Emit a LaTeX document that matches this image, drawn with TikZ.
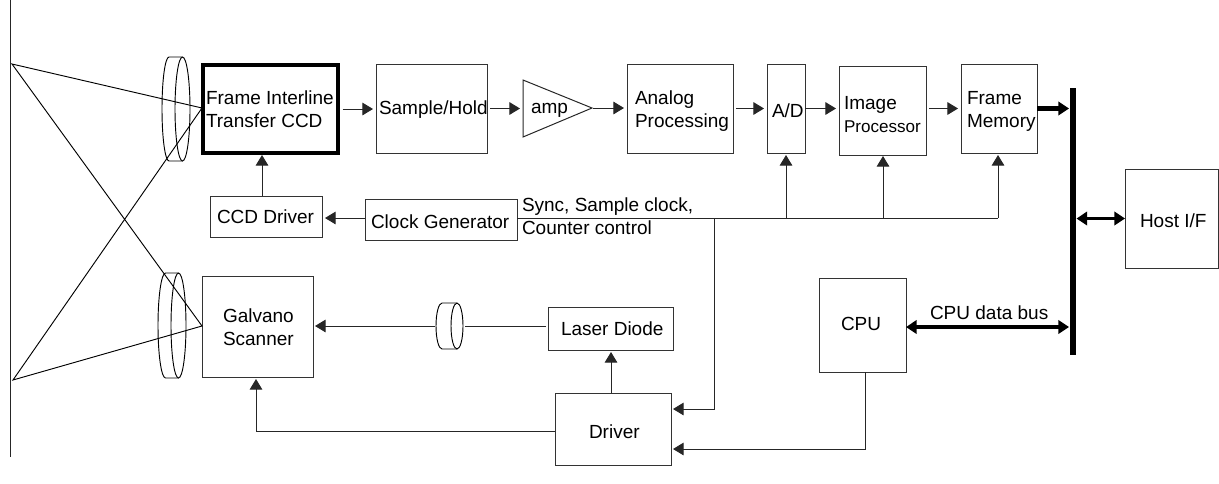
\documentclass[tikz,border=0pt]{standalone}
\usepackage{fontspec}
\setmainfont{Liberation Sans}
\usetikzlibrary{arrows.meta}
\newcommand{\bxnode}[6][bx]{\node[#1,minimum width={(#4-#2)*0.75pt},minimum height={(#5-#3)*0.75pt}] (#6) at ({(#2+#4)/2},{(#3+#5)/2}) {};}
\tikzset{
  bx/.style={draw=black!80,line width=0.75pt,rectangle,inner sep=0pt,outer sep=0pt},
  ccdbx/.style={bx,draw=black,line width=2.9pt},
  busbar/.style={rectangle,fill=black,inner sep=0pt,outer sep=0pt},
  lbl/.style={inner sep=0pt,outer sep=0pt,anchor=west,align=left,font=\fontsize{14.25}{17.25}\selectfont},
  wire/.style={draw=black!85,line width=0.75pt},
  conn/.style={wire,-{Triangle[length=8pt,width=9.5pt]}},
  thickconn/.style={draw=black,line width=3.6pt,-{Triangle[length=8pt,width=10pt]}},
  duplex/.style={draw=black,line width=2.8pt,{Triangle[length=8pt,width=10pt]}-{Triangle[length=8pt,width=10pt]}},
  optic/.style={draw=black,line width=0.7pt},
  gapa/.style={shorten <=2.25pt,shorten >=2.25pt},
}
\begin{document}
\begin{tikzpicture}[x=0.75pt,y=-0.75pt]
\useasboundingbox (0,0) rectangle (1219,483);
% boxes
\bxnode[ccdbx]{203}{65}{338}{153}{ccd}
\bxnode{376}{64}{487}{153}{sh}
\bxnode{627}{64}{733}{153}{ana}
\bxnode{767}{64}{805}{153}{ad}
\bxnode{839}{66}{926}{155}{img}
\bxnode{961}{64}{1037}{153}{fm}
\bxnode{1125}{169}{1218}{268}{host}
\bxnode{210}{196}{322}{237}{ccdd}
\bxnode{365}{199}{517}{240}{clk}
\bxnode{202}{276}{313}{377}{gal}
\bxnode{548}{307}{673}{350}{ld}
\bxnode{555}{393}{671}{465}{drv}
\bxnode{819}{278}{906}{372}{cpu}
\bxnode[busbar]{1070}{88}{1075.5}{355}{bus}
% amp
\coordinate (ampw) at (523,108);
\coordinate (ampe) at (592,108);
\draw[wire] (523,80) -- (ampe) -- (523,137) -- cycle;
% labels
\node[lbl] (ccdt) at (206,109.5) {Frame Interline\\Transfer CCD};
\node[lbl] (sht) at (379,110) {Sample/Hold};
\node[lbl] (ampt) at (531,110) {amp};
\node[lbl] (anat) at (635,111.5) {Analog\\Processing};
\node[lbl] (adt) at (772,111) {A/D};
\node[lbl] (imgt) at (844,114.5) {Image\\{\fontsize{12.8}{17.25}\selectfont Processor}};
\node[lbl] (fmt) at (967,111.5) {Frame\\Memory};
\node[lbl] (hostt) at (1140,221) {Host I/F};
\node[lbl] (ccddt) at (217,217) {CCD Driver};
\node[lbl] (clkt) at (371,222) {Clock Generator};
\node[lbl] (synct) at (522,216.5) {Sync, Sample clock,\\Counter control};
\node[lbl] (galt) at (223,327) {Galvano\\Scanner};
\node[lbl] (ldt) at (561,329) {Laser Diode};
\node[lbl] (drvt) at (589,431.5) {Driver};
\node[lbl] (cput) at (841,324) {CPU};
\node[lbl] (cbt) at (930,313) {CPU data bus};
% top chain
\draw[conn,gapa] (ccd.east) ++(1.5,0) coordinate (a0) (a0) -- (a0 -| sh.west);
\draw[conn,gapa] (sh.east) -- (sh.east -| ampw);
\draw[conn,shorten <=0.75pt,shorten >=2.25pt] (ampe) -- (ampe -| ana.west);
\draw[conn,gapa] (ana.east) -- (ana.east -| ad.west);
\draw[conn,shorten >=2.25pt] (ad.east) -- (ad.east -| img.west);
\draw[conn,gapa] (img.east |- ad.east) -- (fm.west |- ad.east);
\draw[thickconn,shorten >=0.75pt] (fm.east) -- (fm.east -| bus.west);
\draw[duplex,shorten <=0.75pt] (bus.east |- host.west) -- (host.west);
\draw[duplex,shorten >=0.75pt] (cpu.east |- 0,327) -- (bus.west |- 0,327);
% clock network
\coordinate (j1) at (714,218);
\coordinate (j2) at (714,409);
\coordinate (t1) at (786,218);
\coordinate (t2) at (883,218);
\coordinate (t3) at (998,218);
\coordinate (c0) at (262,218);
\draw[conn,shorten >=2.25pt] (clk.west |- c0) -- (ccdd.east |- c0);
\draw[conn,shorten >=1.5pt] (ccdd.north -| c0) -- (ccd.south -| c0);
\draw[wire] (clk.east |- j1) -- (t3);
\draw[conn,shorten >=1.5pt] (t1) -- (ad.south -| t1);
\draw[conn,shorten >=0.75pt] (t2) -- (img.south -| t2);
\draw[conn,shorten >=1.5pt] (t3) -- (fm.south -| t3);
\draw[conn,shorten >=1.5pt] (j1) -- (j2) -- (drv.east |- j2);
% lower
\coordinate (g0) at (256,431);
\coordinate (l0) at (611,350);
\coordinate (cd) at (865,449);
\draw[conn,shorten >=1.5pt] (drv.north -| l0) -- (ld.south -| l0);
\draw[conn,shorten >=1.5pt] (cpu.south -| cd) -- (cd) -- (drv.east |- cd);
\draw[conn,shorten >=1.5pt] (drv.west |- g0) -- (g0) -- (gal.south -| g0);
% small lens
\coordinate (sl) at (457,326);
\draw[wire] (546,326) -- (465,326);
\draw[conn,shorten >=1.5pt] (435,326) -- (gal.east |- sl);
\draw[optic] (457,303) arc[start angle=-90,end angle=270,x radius=6,y radius=23];
\draw[optic] (457,303) -- (442,303) arc[start angle=-90,end angle=-270,x radius=6,y radius=23] -- (457,349);
% big lenses
\draw[optic] (182.5,57) arc[start angle=-90,end angle=270,x radius=7.5,y radius=52];
\draw[optic] (182.5,57) -- (169,57) arc[start angle=-90,end angle=-270,x radius=7,y radius=52] -- (182.5,161);
\draw[optic] (178.5,273) arc[start angle=-90,end angle=270,x radius=7.5,y radius=52.5];
\draw[optic] (178.5,273) -- (165.5,273) arc[start angle=-90,end angle=-270,x radius=7.5,y radius=52.5] -- (178.5,378);
% rays
\coordinate (p1) at (12,64);
\coordinate (p2) at (13,380);
\coordinate (q1) at (202,108);
\coordinate (q2) at (202,326);
\draw[optic] (p1) -- (q1) -- (p2) -- (q2) -- cycle;
% left wall
\coordinate (w1) at (10,0);
\coordinate (w2) at (10,457);
\draw[wire] (w1) -- (w2);
\end{tikzpicture}
\end{document}
